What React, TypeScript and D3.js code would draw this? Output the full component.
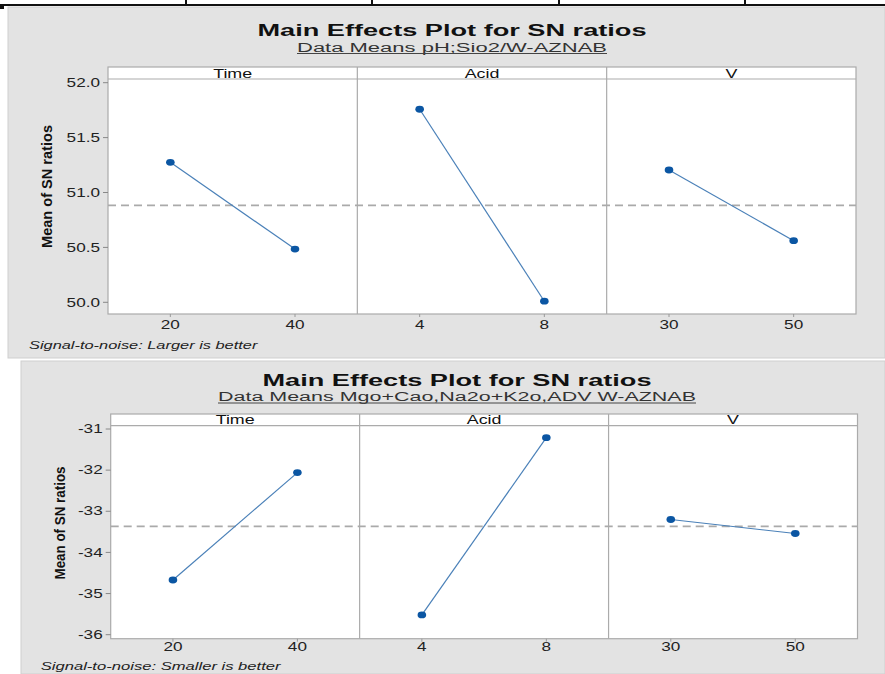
import React from "react";
import * as d3 from "d3";

// ---------------- data ----------------
const FACTORS = ["Time", "Acid", "V"];
const LEVELS = [["20", "40"], ["4", "8"], ["30", "50"]];
const SN_LARGER = [[51.275, 50.485], [51.758, 50.01], [51.205, 50.561]];
const SN_SMALLER = [[-34.67, -32.06], [-35.52, -31.21], [-33.2, -33.54]];
const TICKS_TOP = [50, 50.5, 51, 51.5, 52];
const TICKS_BOTTOM = [-36, -35, -34, -33, -32, -31];
const MAIN_TITLE = "Main Effects Plot for SN ratios";
const SUB_TOP = "Data Means pH;Sio2/W-AZNAB";
const SUB_BOTTOM = "Data Means Mgo+Cao,Na2o+K2o,ADV W-AZNAB";
const FOOT_TOP = "Signal-to-noise: Larger is better";
const FOOT_BOTTOM = "Signal-to-noise: Smaller is better";
const Y_TITLE = "Mean of SN ratios";

const FONT = "'Liberation Sans', Arial, sans-serif";
const SX = 1.43;

type Layout = {
  bg: [number, number, number, number];
  titleX: number; titleY: number; titleW: number;
  subY: number; subW: number;
  left: number; right: number;
  headerTop: number; headerBottom: number; plotBottom: number;
  yDomain: [number, number]; yRange: [number, number];
  yTitleX: number; yTitleY: number; yTitleLen: number;
  xLabelY: number; footX: number; footY: number; footW: number;
};

const TOP_LAYOUT: Layout = {
  bg: [8, 7, 877, 351],
  titleX: 452, titleY: 35.5, titleW: 389,
  subY: 51.5, subW: 310,
  left: 108, right: 856,
  headerTop: 67, headerBottom: 79, plotBottom: 314,
  yDomain: [50, 52], yRange: [302.3, 82.7],
  yTitleX: 48, yTitleY: 186.5, yTitleLen: 123,
  xLabelY: 329, footX: 29, footY: 349, footW: 228,
};

const BOTTOM_LAYOUT: Layout = {
  bg: [21, 361, 864, 313],
  titleX: 457, titleY: 385.5, titleW: 389,
  subY: 401, subW: 478,
  left: 110.7, right: 857.5,
  headerTop: 414, headerBottom: 425.7, plotBottom: 638.7,
  yDomain: [-36, -31], yRange: [634.7, 429],
  yTitleX: 61.7, yTitleY: 523, yTitleLen: 113,
  xLabelY: 651, footX: 40.7, footY: 670, footW: 231,
};

function STxt(props: { x: number; y: number; size: number; anchor?: string; children: React.ReactNode; fill?: string; weight?: string; italic?: boolean; sx?: number; }) {
  const { x, y, size, anchor = "start", children, fill = "#222", weight = "normal", italic = false, sx = SX } = props;
  return (
    <text
      transform={`translate(${x},${y}) scale(${sx},1)`}
      fontSize={size}
      fontFamily={FONT}
      textAnchor={anchor}
      fill={fill}
      fontWeight={weight}
      fontStyle={italic ? "italic" : "normal"}
    >
      {children}
    </text>
  );
}

function Chart({ L, values, ticks, fmt, sub, foot }: { L: Layout; values: number[][]; ticks: number[]; fmt: (v: number) => string; sub: string; foot: string }) {
  const y = d3.scaleLinear().domain(L.yDomain).range(L.yRange);
  const panelW = (L.right - L.left) / FACTORS.length;
  const grandMean = d3.mean(values.flat()) as number;
  const line = d3.line<[number, number]>().x((d) => d[0]).y((d) => d[1]);
  const borderCol = "#ababab";

  return (
    <g>
      <rect x={L.bg[0]} y={L.bg[1]} width={L.bg[2]} height={L.bg[3]} fill="#e3e3e3" stroke="#cfcfcf" strokeWidth={1} />
      {/* titles */}
      <text x={L.titleX} y={L.titleY} textAnchor="middle" fontFamily={FONT} fontWeight="bold" fontSize={16}
        textLength={L.titleW} lengthAdjust="spacingAndGlyphs" fill="#111">{MAIN_TITLE}</text>
      <text x={L.titleX} y={L.subY} textAnchor="middle" fontFamily={FONT} fontSize={12.5}
        textLength={L.subW} lengthAdjust="spacingAndGlyphs" fill="#333">{sub}</text>
      <line x1={L.titleX - L.subW / 2} x2={L.titleX + L.subW / 2} y1={L.subY + 2} y2={L.subY + 2} stroke="#444" strokeWidth={1} />

      {/* plot area */}
      <rect x={L.left} y={L.headerTop} width={L.right - L.left} height={L.plotBottom - L.headerTop} fill="#fff" stroke={borderCol} strokeWidth={1.2} />
      <line x1={L.left} x2={L.right} y1={L.headerBottom} y2={L.headerBottom} stroke={borderCol} strokeWidth={1.2} />

      {/* y axis */}
      {ticks.map((t) => (
        <g key={t}>
          <line x1={L.left - 5} x2={L.left} y1={y(t)} y2={y(t)} stroke="#888" strokeWidth={1} />
          <STxt x={L.left - 8} y={y(t) + 4.2} size={12} anchor="end">{fmt(t)}</STxt>
        </g>
      ))}
      <text
        transform={`translate(${L.yTitleX},${L.yTitleY}) rotate(-90)`}
        fontFamily={FONT} fontWeight="bold" fontSize={14} textAnchor="middle" dominantBaseline="middle"
        textLength={L.yTitleLen} lengthAdjust="spacingAndGlyphs" fill="#111"
      >{Y_TITLE}</text>

      {/* mean reference line */}
      <line x1={L.left} x2={L.right} y1={y(grandMean)} y2={y(grandMean)} stroke="#aaaaaa" strokeWidth={1.6} strokeDasharray="8,5" />

      {FACTORS.map((f, i) => {
        const x0 = L.left + i * panelW;
        const x = d3.scalePoint<string>().domain(LEVELS[i]).range([x0, x0 + panelW]).padding(0.5);
        const pts: [number, number][] = LEVELS[i].map((lv, j) => [x(lv) as number, y(values[i][j])]);
        return (
          <g key={f}>
            {i > 0 && <line x1={x0} x2={x0} y1={L.headerTop} y2={L.plotBottom} stroke={borderCol} strokeWidth={1.2} />}
            <STxt x={x0 + panelW / 2} y={L.headerBottom - 1.5} size={12.5} anchor="middle" fill="#111">{f}</STxt>
            {LEVELS[i].map((lv) => (
              <g key={lv}>
                <line x1={x(lv)} x2={x(lv)} y1={L.plotBottom} y2={L.plotBottom + 3} stroke="#999" strokeWidth={1} />
                <STxt x={x(lv) as number} y={L.xLabelY} size={12} anchor="middle">{lv}</STxt>
              </g>
            ))}
            <path d={line(pts) as string} fill="none" stroke="#4a80b8" strokeWidth={1.2} />
            {pts.map((p, j) => (
              <ellipse key={j} cx={p[0]} cy={p[1]} rx={4.3} ry={3.4} fill="#0b56a3" />
            ))}
          </g>
        );
      })}

      <STxt x={L.footX} y={L.footY} size={11} italic anchor="start" sx={L.footW / 153}>{foot}</STxt>
    </g>
  );
}

const fmtTop = (v: number) => v.toFixed(1);
const fmtBottom = (v: number) => String(v).replace("\u2212", "-");

export default function App() {
  const tableX = [186, 372, 559, 745];
  return (
    <svg width={885} height={674} style={{ position: "absolute", left: 0, top: 0, background: "#fff" }}>
      {/* table border remnants */}
      <line x1={0} x2={885} y1={5} y2={5} stroke="#111" strokeWidth={2} />
      {tableX.map((tx) => (
        <line key={tx} x1={tx} x2={tx} y1={0} y2={5} stroke="#111" strokeWidth={2} />
      ))}
      <rect x={0} y={4} width={4} height={5} fill="#111" />
      <Chart L={TOP_LAYOUT} values={SN_LARGER} ticks={TICKS_TOP} fmt={fmtTop} sub={SUB_TOP} foot={FOOT_TOP} />
      <Chart L={BOTTOM_LAYOUT} values={SN_SMALLER} ticks={TICKS_BOTTOM} fmt={fmtBottom} sub={SUB_BOTTOM} foot={FOOT_BOTTOM} />
    </svg>
  );
}
